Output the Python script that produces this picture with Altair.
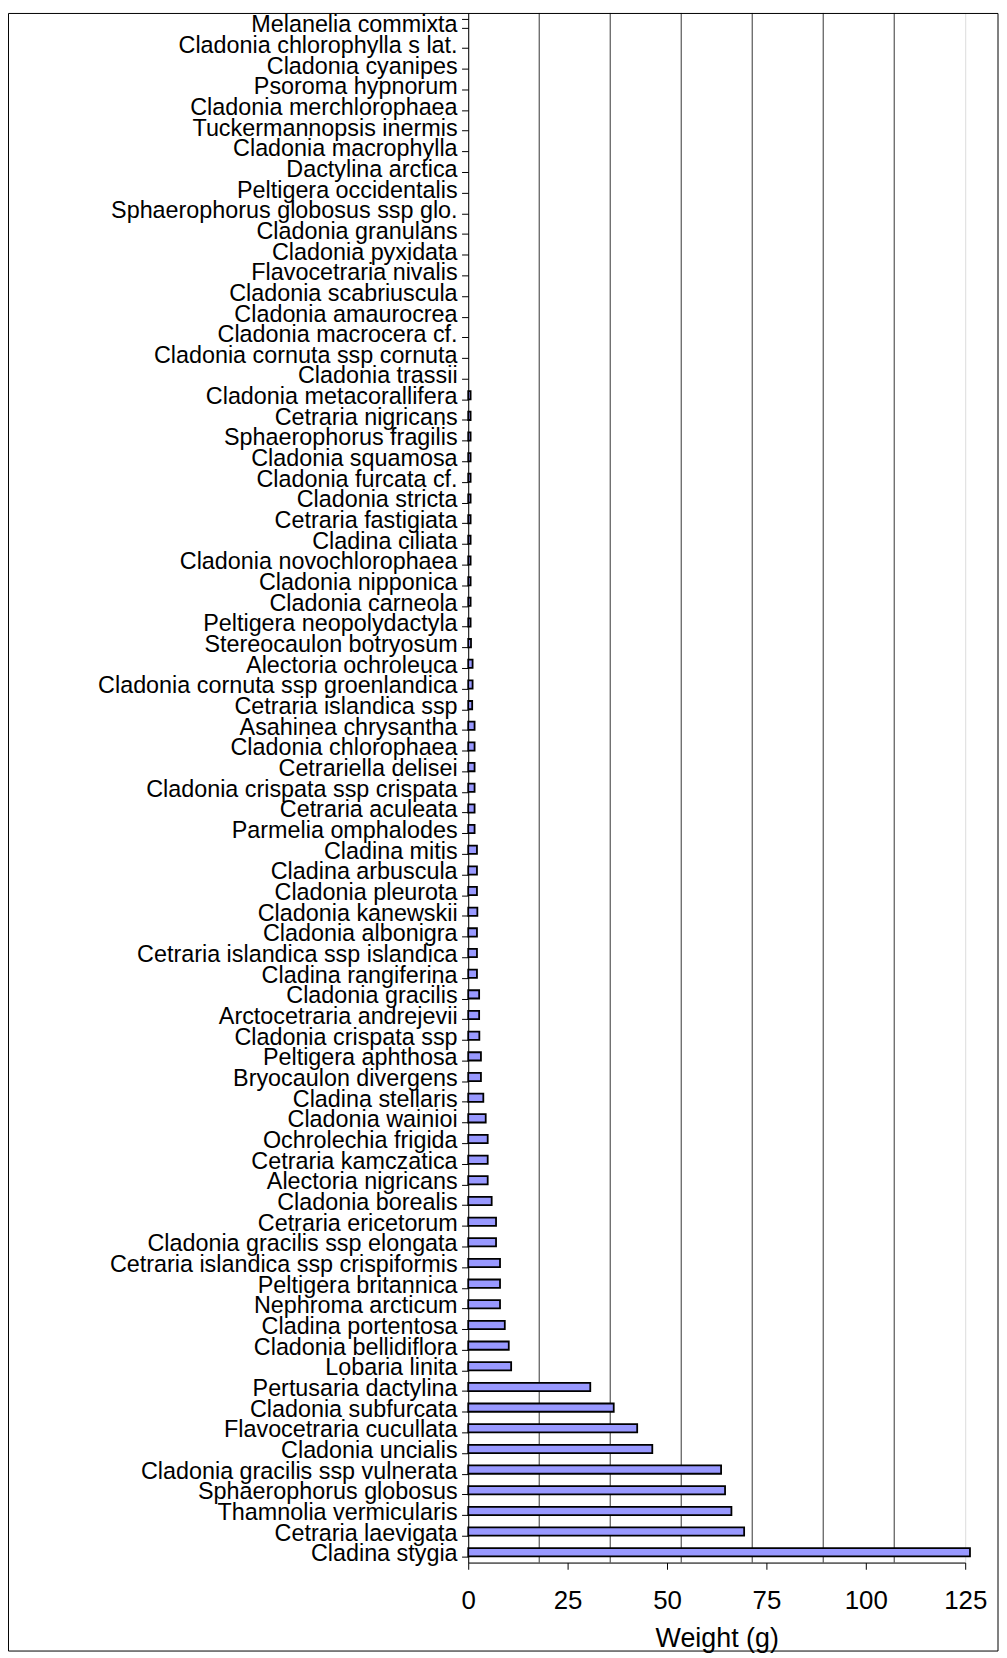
import altair as alt
import pandas as pd

species = [
    "Melanelia commixta", "Cladonia chlorophylla s lat.", "Cladonia cyanipes", "Psoroma hypnorum",
    "Cladonia merchlorophaea", "Tuckermannopsis inermis", "Cladonia macrophylla", "Dactylina arctica",
    "Peltigera occidentalis", "Sphaerophorus globosus ssp glo.", "Cladonia granulans", "Cladonia pyxidata",
    "Flavocetraria nivalis", "Cladonia scabriuscula", "Cladonia amaurocrea", "Cladonia macrocera cf.",
    "Cladonia cornuta ssp cornuta", "Cladonia trassii", "Cladonia metacorallifera", "Cetraria nigricans",
    "Sphaerophorus fragilis", "Cladonia squamosa", "Cladonia furcata cf.", "Cladonia stricta",
    "Cetraria fastigiata", "Cladina ciliata", "Cladonia novochlorophaea", "Cladonia nipponica",
    "Cladonia carneola", "Peltigera neopolydactyla", "Stereocaulon botryosum", "Alectoria ochroleuca",
    "Cladonia cornuta ssp groenlandica", "Cetraria islandica ssp", "Asahinea chrysantha", "Cladonia chlorophaea",
    "Cetrariella delisei", "Cladonia crispata ssp crispata", "Cetraria aculeata", "Parmelia omphalodes",
    "Cladina mitis", "Cladina arbuscula", "Cladonia pleurota", "Cladonia kanewskii",
    "Cladonia albonigra", "Cetraria islandica ssp islandica", "Cladina rangiferina", "Cladonia gracilis",
    "Arctocetraria andrejevii", "Cladonia crispata ssp", "Peltigera aphthosa", "Bryocaulon divergens",
    "Cladina stellaris", "Cladonia wainioi", "Ochrolechia frigida", "Cetraria kamczatica",
    "Alectoria nigricans", "Cladonia borealis", "Cetraria ericetorum", "Cladonia gracilis ssp elongata",
    "Cetraria islandica ssp crispiformis", "Peltigera britannica", "Nephroma arcticum", "Cladina portentosa",
    "Cladonia bellidiflora", "Lobaria linita", "Pertusaria dactylina", "Cladonia subfurcata",
    "Flavocetraria cucullata", "Cladonia uncialis", "Cladonia gracilis ssp vulnerata", "Sphaerophorus globosus",
    "Thamnolia vermicularis", "Cetraria laevigata", "Cladina stygia",
]

weights = [
    0, 0, 0, 0, 0, 0, 0, 0, 0, 0, 0, 0, 0, 0, 0, 0, 0, 0,
    0.6, 0.6, 0.6, 0.6, 0.6, 0.6, 0.6, 0.6, 0.6, 0.6, 0.6, 0.6, 0.7,
    1.1, 1.1, 1.0,
    1.6, 1.6, 1.6, 1.6, 1.6, 1.6,
    2.2, 2.2, 2.2, 2.3, 2.2, 2.2, 2.2,
    2.75, 2.75, 2.8,
    3.2, 3.2, 3.8, 4.4, 4.9, 4.9, 4.9, 5.9, 7.0, 7.0, 8.0, 8.0, 8.0,
    9.2, 10.2, 10.8, 30.7, 36.6, 42.5, 46.3, 63.6, 64.6, 66.2, 69.4, 126.2,
]

x_ticks = [0, 25, 50, 75, 100, 125]
x_max = 125
grid_lines = [x_max * k / 7 for k in range(1, 7)]

df = pd.DataFrame({"species": species, "weight": weights})
grid_df = pd.DataFrame({"weight": grid_lines})

FONT = "Liberation Sans"
x_scale = alt.Scale(domain=[0, x_max], nice=False, zero=True)
y_scale = alt.Scale(domain=species, paddingInner=0.6, paddingOuter=0.3)

x_axis = alt.Axis(
    values=x_ticks, grid=False, title="Weight (g)", tickSize=6.7,
    tickColor="black", domainColor="black", labelColor="black",
    labelFont=FONT, labelFontSize=26, labelPadding=19, labelFlush=False,
    titleFont=FONT, titleFontSize=27, titleFontWeight="normal", titleColor="black",
    titleY=84, titleBaseline="alphabetic",
)

grid = alt.Chart(grid_df).mark_rule(color="#333333", strokeWidth=1).encode(
    x=alt.X("weight:Q", scale=x_scale, axis=x_axis, title="Weight (g)")
)

bars = alt.Chart(df).transform_filter("datum.weight > 0").mark_bar(
    color="#9999FF", stroke="black", strokeWidth=1.8, clip=False
).encode(
    x=alt.X("weight:Q", scale=x_scale, axis=x_axis, title="Weight (g)"),
    y=alt.Y(
        "species:N",
        scale=y_scale,
        sort=species,
        axis=alt.Axis(
            title=None, tickBand="extent", tickSize=6.7, tickColor="black",
            domainColor="black", labelColor="black", labelFont=FONT, labelFontSize=23.5,
            labelPadding=4.5, labelLimit=0, labelOverlap=False, labelOffset=1.5,
        ),
    ),
)

border = alt.Chart(pd.DataFrame({"k": [0]})).mark_rect(
    fill="white", fillOpacity=0, stroke="black", strokeWidth=1
).encode(
    x=alt.value(-462.5), x2=alt.value(533), y=alt.value(0.5), y2=alt.value(1648)
)

chart = alt.layer(grid, bars, border).properties(
    width=500,
    height=1559,
    autosize=alt.AutoSizeParams(type="none"),
    padding={"left": 463, "top": 0, "right": 34, "bottom": 90},
).configure_view(stroke="black", strokeWidth=1).configure(background="white")

chart.save("out.html", embed_options={"renderer": "svg", "actions": False})
